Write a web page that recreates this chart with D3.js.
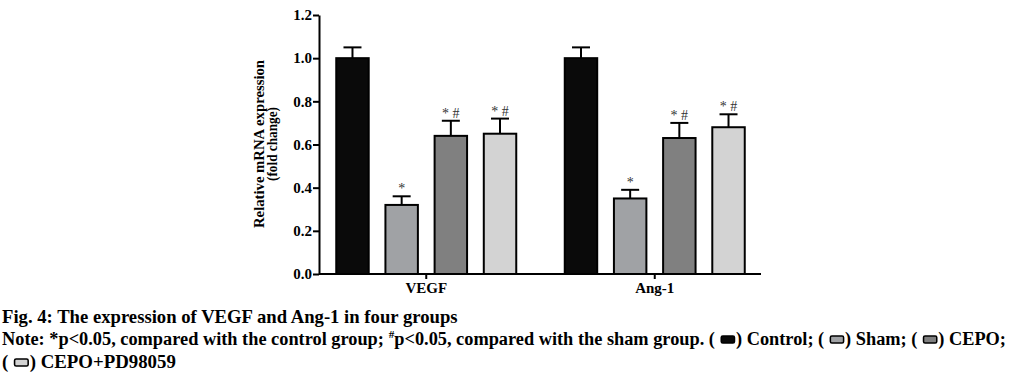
<!DOCTYPE html>
<html>
<head>
<meta charset="utf-8">
<script src="https://cdn.jsdelivr.net/npm/d3@7"></script>
<style>
  body { margin: 0; background: #fff; }
  svg { display: block; }
  text { font-family: "Liberation Serif", "Times New Roman", serif; font-weight: bold; }
</style>
</head>
<body>
<script>
// data
var genes = ["VEGF", "Ang-1"];
var groups = ["Control", "Sham", "CEPO", "CEPO+PD98059"];
var colors = ["#0a0a0a", "#a0a2a5", "#808080", "#d3d3d3"];
var vegfMean = [1.00, 0.32, 0.64, 0.65];
var vegfErr = [0.05, 0.04, 0.07, 0.07];
var angMean = [1.00, 0.35, 0.63, 0.68];
var angErr = [0.05, 0.04, 0.07, 0.06];
var marks = ["", "*", "* #", "* #"];
var yTicks = [0, 0.2, 0.4, 0.6, 0.8, 1.0, 1.2];

var W = 1011, H = 380;
var svg = d3.select("body").append("svg")
    .attr("width", W)
    .attr("height", H);

//plot area
var x0 = 319, x1 = 761, yTop = 15, yBot = 274;

var yScale = d3.scaleLinear().domain([0, 1.2]).range([yBot, yTop]);
var xGene = d3.scaleBand().domain(genes).range([312, 769]).paddingInner(0).paddingOuter(0);
var xGroup = d3.scaleBand().domain(groups).range([0, 180]).paddingInner(0.34).paddingOuter(0);

var rows = [];
genes.forEach(function(g, gi) {
    var m = gi == 0 ? vegfMean : angMean;
    var e = gi == 0 ? vegfErr : angErr;
    groups.forEach(function(k, ki) {
        rows.push({gene: g, group: k, mean: m[ki], err: e[ki], color: colors[ki], mark: marks[ki]});
    });
});

function barX(d) {
    return xGene(d.gene) + (xGene.bandwidth() - 180) / 2 + xGroup(d.group);
}

//bars
svg.selectAll("rect.bar")
    .data(rows)
    .enter().append("rect")
    .attr("class", "bar")
    .attr("x", barX)
    .attr("y", function(d) { return yScale(d.mean); })
    .attr("width", xGroup.bandwidth())
    .attr("height", function(d) { return yScale(0) - yScale(d.mean); })
    .attr("fill", function(d) { return d.color; })
    .attr("stroke", "#000")
    .attr("stroke-width", 2);

//error bars
var eb = svg.selectAll("g.err").data(rows).enter().append("g").attr("class", "err");
eb.append("line")
    .attr("x1", function(d) { return barX(d) + xGroup.bandwidth() / 2; })
    .attr("x2", function(d) { return barX(d) + xGroup.bandwidth() / 2; })
    .attr("y1", function(d) { return yScale(d.mean); })
    .attr("y2", function(d) { return yScale(d.mean + d.err); })
    .attr("stroke", "#000").attr("stroke-width", 2);
eb.append("line")
    .attr("x1", function(d) { return barX(d) + xGroup.bandwidth() / 2 - 9; })
    .attr("x2", function(d) { return barX(d) + xGroup.bandwidth() / 2 + 9; })
    .attr("y1", function(d) { return yScale(d.mean + d.err); })
    .attr("y2", function(d) { return yScale(d.mean + d.err); })
    .attr("stroke", "#000").attr("stroke-width", 2);

//significance marks
svg.selectAll("text.sig")
    .data(rows.filter(function(d) { return d.mark != ""; }))
    .enter().append("text")
    .attr("class", "sig")
    .attr("x", function(d) { return barX(d) + xGroup.bandwidth() / 2; })
    .attr("y", function(d) { return yScale(d.mean + d.err) - 3; })
    .attr("text-anchor", "middle")
    .attr("font-size", 14)
    .style("font-weight", "normal")
    .attr("fill", "#333")
    .text(function(d) { return d.mark; });

//y axis
var yAxis = svg.append("g")
    .attr("transform", "translate(" + x0 + ",0)")
    .call(d3.axisLeft(yScale).tickValues(yTicks).tickFormat(d3.format(".1f")).tickSize(6).tickSizeOuter(0));
yAxis.select(".domain").attr("stroke-width", 2);
yAxis.selectAll(".tick line").attr("stroke-width", 2);
yAxis.selectAll(".tick text")
    .attr("font-size", 15)
    .attr("x", -7);

//x axis
var xAxis = svg.append("g")
    .attr("transform", "translate(0," + yBot + ")");
xAxis.append("line")
    .attr("x1", x0).attr("x2", x1)
    .attr("stroke", "#000").attr("stroke-width", 2);
xAxis.selectAll("line.tk")
    .data(genes).enter().append("line")
    .attr("class", "tk")
    .attr("x1", function(d) { return xGene(d) + xGene.bandwidth() / 2; })
    .attr("x2", function(d) { return xGene(d) + xGene.bandwidth() / 2; })
    .attr("y1", 0).attr("y2", 5)
    .attr("stroke", "#000").attr("stroke-width", 2);
xAxis.selectAll("text.gl")
    .data(genes).enter().append("text")
    .attr("class", "gl")
    .attr("x", function(d) { return xGene(d) + xGene.bandwidth() / 2; })
    .attr("y", 19)
    .attr("text-anchor", "middle")
    .attr("font-size", 15)
    .text(function(d) { return d; });

//y axis title
var yt = svg.append("text")
    .attr("transform", "translate(264,144) rotate(-90)")
    .attr("text-anchor", "middle")
    .attr("font-size", 14);
yt.append("tspan").attr("x", 0).attr("dy", 0)
    .attr("textLength", 168).attr("lengthAdjust", "spacingAndGlyphs")
    .text("Relative mRNA expression");
yt.append("tspan").attr("x", 0).attr("dy", 13)
    .attr("textLength", 74).attr("lengthAdjust", "spacingAndGlyphs")
    .text("(fold change)");

//caption
var cap = svg.append("g");
var t1 = cap.append("text").attr("x", 0).attr("y", 323).attr("font-size", 18)
    .text("Fig. 4: The expression of VEGF and Ang-1 in four groups");
var w1 = t1.node().getComputedTextLength();
t1.attr("transform", "translate(2,0) scale(" + (456 / w1) + ",1)");

//caption line 2 and 3 with legend boxes
function captionLine(parts, y, target) {
    var g = cap.append("g");
    var cx = 0;
    parts.forEach(function(p) {
        if (p.box != null) {
            g.append("rect")
                .attr("x", cx + 1.5).attr("y", y - 9)
                .attr("width", 13).attr("height", 7)
                .attr("rx", 1.5)
                .attr("fill", colors[p.box])
                .attr("stroke", "#000").attr("stroke-width", 1.5);
            cx += 16;
        } else if (p.sup) {
            var s = g.append("text").attr("x", cx).attr("y", y - 7).attr("font-size", 11).text(p.sup);
            cx += s.node().getComputedTextLength();
        } else {
            var t = g.append("text").attr("x", cx).attr("y", y).attr("font-size", 18)
                .style("white-space", "pre").text(p.t);
            cx += t.node().getComputedTextLength();
        }
    });
    g.attr("transform", "translate(2,0) scale(" + (target / cx) + ",1)");
}

captionLine([
    {t: "Note: *p<0.05, compared with the control group; "},
    {sup: "#"},
    {t: "p<0.05, compared with the sham group. ( "},
    {box: 0},
    {t: ") " + groups[0] + "; ( "},
    {box: 1},
    {t: ") " + groups[1] + "; ( "},
    {box: 2},
    {t: ") " + groups[2] + ";"}
], 345, 1004);

captionLine([
    {t: "( "},
    {box: 3},
    {t: ") " + groups[3]}
], 368, 174);
</script>
</body>
</html>
